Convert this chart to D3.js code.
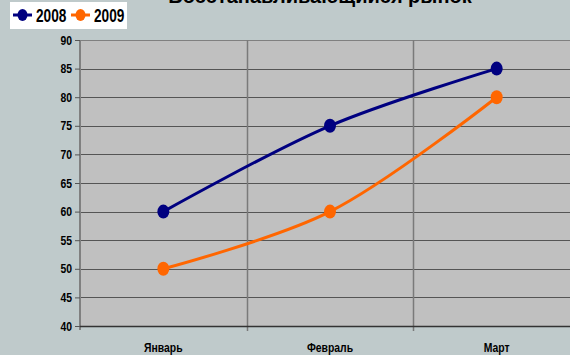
<!DOCTYPE html>
<html>
<head>
<meta charset="utf-8">
<script src="https://cdn.jsdelivr.net/npm/d3@7"></script>
<style>
  html, body { margin: 0; padding: 0; background: #bfcacb; }
  svg { display: block; }
  text { font-family: "Liberation Sans", Arial, sans-serif; font-weight: bold; fill: #000; }
</style>
</head>
<body>
<svg id="chart" width="570" height="355"></svg>
<script>
const title = "Восстанавливающийся рынок";
const months = ["Январь", "Февраль", "Март"];
const seriesNames = ["2008", "2009"];
const values2008 = [60, 75, 85];
const values2009 = [50, 60, 80];
const seriesColors = ["#000080", "#ff6600"];
const yTicks = [40, 45, 50, 55, 60, 65, 70, 75, 80, 85, 90];

const svg = d3.select("#chart");
const W = 570, H = 355;
const plot = { left: 80, top: 40, right: 580, bottom: 326 };
const narrow = 0.8; // horizontal squeeze for the condensed label face

svg.append("rect").attr("width", W).attr("height", H).attr("fill", "#bfcacb");

const x = d3.scaleBand().domain(months).range([plot.left, plot.right]);
const y = d3.scaleLinear().domain([40, 90]).range([plot.bottom, plot.top]);

// plot area
svg.append("rect")
  .attr("x", plot.left).attr("y", plot.top)
  .attr("width", plot.right - plot.left).attr("height", plot.bottom - plot.top)
  .attr("fill", "#c0c0c0");

// horizontal gridlines
svg.append("g").selectAll("line").data(yTicks).join("line")
  .attr("x1", plot.left).attr("x2", plot.right)
  .attr("y1", d => Math.round(y(d)) + 0.5).attr("y2", d => Math.round(y(d)) + 0.5)
  .attr("stroke", d => d === 90 ? "#808080" : "#555")
  .attr("stroke-width", 1.2);

// vertical gridlines at category boundaries
const bounds = months.slice(1).map(m => x(m));
svg.append("g").selectAll("line").data(bounds).join("line")
  .attr("x1", d => Math.round(d) + 0.5).attr("x2", d => Math.round(d) + 0.5)
  .attr("y1", plot.top).attr("y2", plot.bottom + 5)
  .attr("stroke", "#7a7a7a").attr("stroke-width", 1.5);

// y axis
const yAxis = svg.append("g")
  .attr("transform", `translate(${plot.left},0)`)
  .call(d3.axisLeft(y).tickValues(yTicks).tickSize(5).tickSizeOuter(0));
yAxis.select(".domain").attr("stroke", "#808080").attr("stroke-width", 2).attr("d", `M0,${plot.top}V${plot.bottom + 4}`);
yAxis.selectAll(".tick line").attr("stroke", "#555");
yAxis.selectAll(".tick text")
  .attr("x", -8 / narrow)
  .attr("transform", `scale(${narrow},1)`)
  .attr("font-size", 13)
  .style("font-family", '"Liberation Sans", Arial, sans-serif')
  .style("font-weight", "bold")
  .attr("fill", "#000");

// x axis
svg.append("line")
  .attr("x1", plot.left).attr("x2", plot.right)
  .attr("y1", plot.bottom + 0.5).attr("y2", plot.bottom + 0.5)
  .attr("stroke", "#333").attr("stroke-width", 1.5);
svg.append("g").selectAll("text").data(months).join("text")
  .attr("transform", d => `translate(${x(d) + x.bandwidth() / 2},352) scale(${narrow},1)`)
  .attr("text-anchor", "middle")
  .attr("font-size", 13)
  .text(d => d);

// title (runs off the top edge of the frame)
svg.append("text")
  .attr("x", 320).attr("y", 3)
  .attr("text-anchor", "middle")
  .attr("font-size", 20)
  .text(title);

// series
const series = [values2008, values2009];
const line = d3.line()
  .x((d, i) => x(months[i]) + x.bandwidth() / 2)
  .y(d => y(d))
  .curve(d3.curveCatmullRom.alpha(0.5));

series.forEach((vals, s) => {
  svg.append("path")
    .datum(vals)
    .attr("d", line)
    .attr("fill", "none")
    .attr("stroke", seriesColors[s])
    .attr("stroke-width", 3);
  svg.append("g").selectAll("ellipse").data(vals).join("ellipse")
    .attr("cx", (d, i) => x(months[i]) + x.bandwidth() / 2)
    .attr("cy", d => y(d))
    .attr("rx", 6).attr("ry", 7)
    .attr("fill", seriesColors[s]);
});

// legend
const lg = svg.append("g");
lg.append("rect").attr("x", 10).attr("y", 2).attr("width", 117).attr("height", 27).attr("fill", "#fff");
seriesNames.forEach((name, i) => {
  const ox = 13 + i * 58;
  lg.append("line").attr("x1", ox).attr("x2", ox + 19).attr("y1", 15).attr("y2", 15)
    .attr("stroke", seriesColors[i]).attr("stroke-width", 3);
  lg.append("ellipse").attr("cx", ox + 9.5).attr("cy", 15).attr("rx", 5).attr("ry", 6).attr("fill", seriesColors[i]);
  lg.append("text")
    .attr("transform", `translate(${ox + 23},22) scale(0.76,1)`)
    .attr("font-size", 18)
    .text(name);
});
</script>
</body>
</html>
